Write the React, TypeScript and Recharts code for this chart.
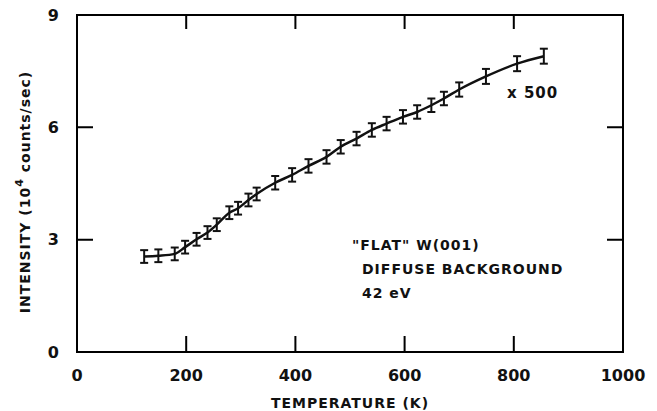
import { ComposedChart, Line, ErrorBar, XAxis, YAxis } from "recharts";

// temperature (K) and diffuse background intensity (10^4 counts/sec)
const temps = [123, 149, 179, 198, 219, 239, 256, 279, 295, 314, 329, 363, 394, 424, 457, 483, 512, 540, 567, 597, 623, 649, 672, 700, 749, 806, 855];
const intensity = [2.55, 2.57, 2.62, 2.8, 3.01, 3.19, 3.4, 3.72, 3.84, 4.06, 4.22, 4.52, 4.73, 4.97, 5.21, 5.48, 5.7, 5.93, 6.1, 6.28, 6.41, 6.59, 6.77, 7.01, 7.36, 7.7, 7.9];
const errors = [0.17, 0.17, 0.17, 0.17, 0.17, 0.17, 0.17, 0.17, 0.17, 0.17, 0.17, 0.18, 0.18, 0.18, 0.18, 0.18, 0.18, 0.18, 0.18, 0.18, 0.18, 0.18, 0.18, 0.19, 0.2, 0.2, 0.2];

const xTicks = [0, 200, 400, 600, 800, 1000];
const yTicks = [0, 3, 6, 9];
const X_MAX = 1000;
const Y_MAX = 9;

const data = temps.map((t, i) => ({ t, v: intensity[i], err: errors[i] }));

const W = 657;
const H = 411;
const M = { top: 15, right: 34, left: 77, bottom: 59 };
// plot box, same as what recharts gets from the margins above
const PX0 = M.left;
const PX1 = W - M.right;
const PY0 = H - M.bottom;
const PY1 = M.top;
const px = (t: number) => PX0 + (t / X_MAX) * (PX1 - PX0);
const py = (v: number) => PY0 - (v / Y_MAX) * (PY0 - PY1);

// frame + inward ticks on all four sides as one path
const frameD = [
    `M${PX0},${PY1}H${PX1}V${PY0}H${PX0}Z`,
    ...xTicks.slice(1, -1).map((t) => `M${px(t)},${PY0}v-16M${px(t)},${PY1}v14`),
    ...yTicks.slice(1, -1).map((v) => `M${PX0},${py(v)}h16M${PX1},${py(v)}h-16`),
].join("");

const ink = "#111";
const font = "'DejaVu Sans', sans-serif";
const tickStyle = { fill: ink, fontSize: 16, fontWeight: 700, fontFamily: font };
const textStyle = { fill: ink, fontSize: 14, fontWeight: 700, fontFamily: font, letterSpacing: 1 };

export default function App() {
    return (
        <div style={{ position: "absolute", left: 0, top: 0, width: W, height: H, background: "#fff" }}>
            <ComposedChart
                width={W}
                height={H}
                data={data}
                margin={{ top: M.top, right: M.right, bottom: 0, left: 0 }}
            >
                <XAxis
                    type="number"
                    dataKey="t"
                    domain={[0, X_MAX]}
                    ticks={xTicks}
                    height={M.bottom}
                    tickLine={false}
                    tickMargin={12}
                    stroke={ink}
                    strokeWidth={2}
                    tick={tickStyle}
                />
                <YAxis
                    type="number"
                    domain={[0, Y_MAX]}
                    ticks={yTicks}
                    width={M.left}
                    tickLine={false}
                    tickMargin={12}
                    stroke={ink}
                    strokeWidth={2}
                    tick={tickStyle}
                />
                <Line
                    dataKey="v"
                    type="monotone"
                    stroke={ink}
                    strokeWidth={2.5}
                    dot={false}
                    isAnimationActive={false}
                >
                    <ErrorBar dataKey="err" direction="y" width={4} stroke={ink} strokeWidth={2} isAnimationActive={false} />
                </Line>
            </ComposedChart>
            <svg width={W} height={H} style={{ position: "absolute", left: 0, top: 0, pointerEvents: "none" }}>
                <path d={frameD} style={{ stroke: "#000", strokeWidth: 2, fill: "none" }} />
                <text transform="translate(25,192) rotate(-90)" textAnchor="middle" dominantBaseline="central" style={textStyle}>
                    INTENSITY (10<tspan dy={-6} fontSize={11}>4</tspan>
                    <tspan dy={6}> counts/sec)</tspan>
                </text>
                <text x={350} y={408} textAnchor="middle" style={textStyle}>TEMPERATURE (K)</text>
                <text x={507} y={98} style={{ ...textStyle, fontSize: 15 }}>x 500</text>
                <text x={352} y={250} style={textStyle}>"FLAT" W(001)</text>
                <text x={362} y={274} style={textStyle}>DIFFUSE BACKGROUND</text>
                <text x={362} y={298} style={textStyle}>42 eV</text>
            </svg>
        </div>
    );
}
